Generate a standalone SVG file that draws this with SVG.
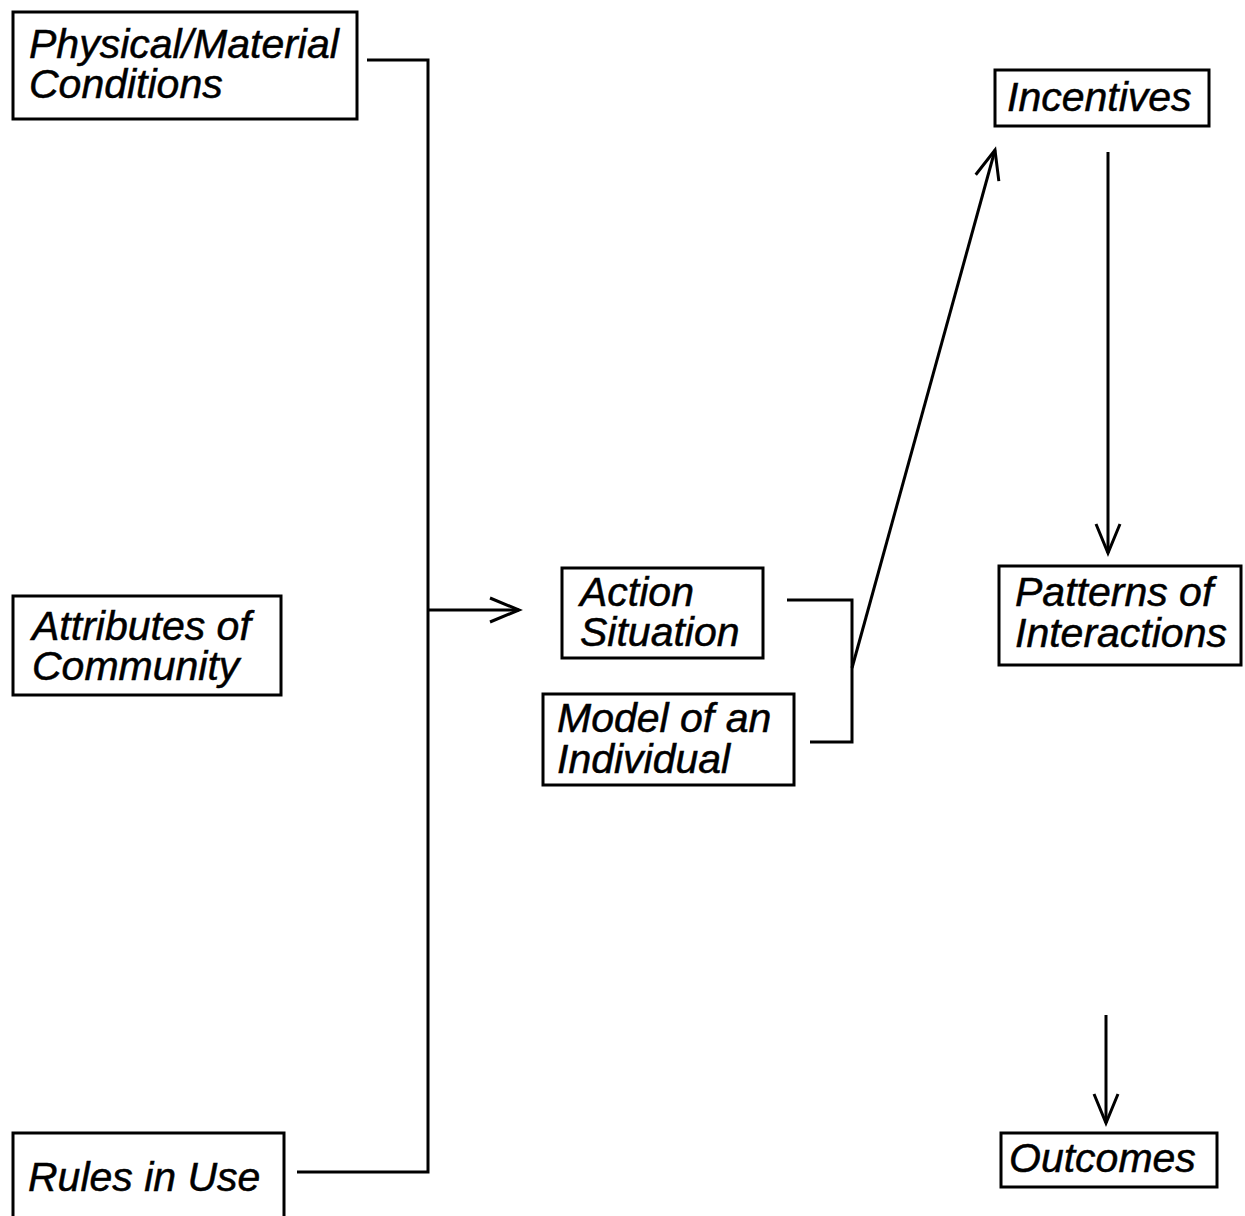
<svg xmlns="http://www.w3.org/2000/svg" width="1245" height="1216" viewBox="0 0 1245 1216">
  <style>
    .box { fill: #fff; stroke: #000; stroke-width: 3; }
    .lbl { font-family: "Liberation Sans", Arial, sans-serif; font-style: italic; font-size: 41px; fill: #000; stroke: #000; stroke-width: 0.5; }
    .wire { fill: none; stroke: #000; stroke-width: 3; }
  </style>
  <defs>
    <marker id="open" viewBox="0 0 30 26" refX="29" refY="13" markerWidth="30" markerHeight="26" markerUnits="userSpaceOnUse" orient="auto" overflow="visible">
      <path d="M0,1 L29,13 L0,25" fill="none" stroke="#000" stroke-width="3"/>
    </marker>
  </defs>
  <rect width="1245" height="1216" fill="#fff"/>

  <!-- connectors -->
  <g id="connectors">
    <path class="wire" d="M367,60 H428 V1172 H297"/>
    <path class="wire" d="M428,610 H519" marker-end="url(#open)"/>
    <path class="wire" d="M787,600 H852 V742 H810"/>
    <path class="wire" d="M852,668 L995,150" marker-end="url(#open)"/>
    <path class="wire" d="M1108,152 V553" marker-end="url(#open)"/>
    <path class="wire" d="M1106,1015 V1123" marker-end="url(#open)"/>
  </g>

  <g id="physical">
    <rect class="box" x="13" y="12" width="344" height="107"/>
    <text class="lbl" x="29" y="58">Physical/Material</text>
    <text class="lbl" x="29" y="98">Conditions</text>
  </g>

  <g id="attributes">
    <rect class="box" x="13" y="596" width="268" height="99"/>
    <text class="lbl" x="32" y="640">Attributes of</text>
    <text class="lbl" x="32" y="680">Community</text>
  </g>

  <g id="rules">
    <rect class="box" x="13" y="1133" width="271" height="100"/>
    <text class="lbl" x="28" y="1191">Rules in Use</text>
  </g>

  <g id="action">
    <rect class="box" x="562" y="568" width="201" height="90"/>
    <text class="lbl" x="580" y="606">Action</text>
    <text class="lbl" x="580" y="646">Situation</text>
  </g>

  <g id="model">
    <rect class="box" x="543" y="694" width="251" height="91"/>
    <text class="lbl" x="557" y="732">Model of an</text>
    <text class="lbl" x="557" y="773">Individual</text>
  </g>

  <g id="incentives">
    <rect class="box" x="995" y="70" width="214" height="56"/>
    <text class="lbl" x="1007" y="111">Incentives</text>
  </g>

  <g id="patterns">
    <rect class="box" x="999" y="566" width="242" height="99"/>
    <text class="lbl" x="1015" y="606">Patterns of</text>
    <text class="lbl" x="1015" y="647">Interactions</text>
  </g>

  <g id="outcomes">
    <rect class="box" x="1001" y="1133" width="216" height="54"/>
    <text class="lbl" x="1009" y="1172">Outcomes</text>
  </g>
</svg>
